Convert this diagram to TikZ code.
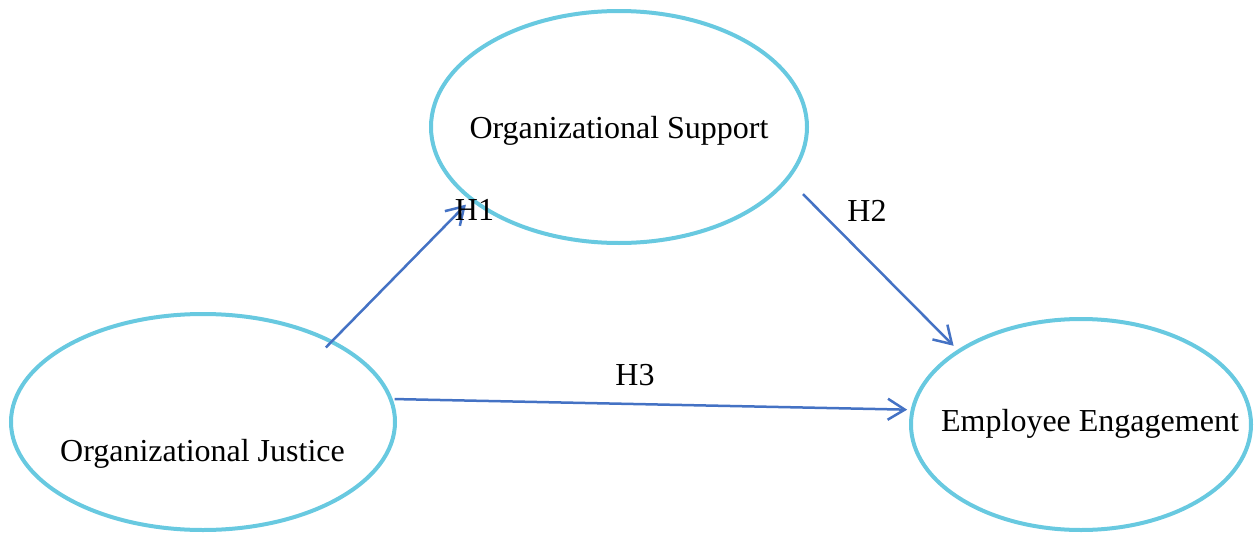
\documentclass[tikz,border=0pt]{standalone}
\usepackage{fontspec}
\setmainfont{Liberation Serif}
\usetikzlibrary{shapes.geometric,arrows.meta}
\definecolor{ringblue}{RGB}{104,201,224}
\definecolor{arrowblue}{RGB}{68,114,196}

\begin{document}
\begin{tikzpicture}[x=1pt,y=-1pt,
	bubble/.style={draw=ringblue,line width=4pt,ellipse,outer sep=0pt,inner sep=0pt},
	hyp/.style={draw=arrowblue,line width=2.5pt,-{Straight Barb[length=17pt,width=21pt]}},
	lbl/.style={font=\fontsize{32}{38}\selectfont,inner sep=0pt,anchor=base}]
	\useasboundingbox (0,0) rectangle (1254,533);

	% les trois construits
	\node[bubble,minimum width=376pt,minimum height=232pt] (support) at (619,127) {};
	\node[bubble,minimum width=384pt,minimum height=216pt] (justice) at (203,422) {};
	\node[bubble,minimum width=340pt,minimum height=211pt] (engage) at (1081,424.5) {};

	\node[lbl] (supportname) at (619,138) {Organizational Support};
	\node[lbl] (justicename) at (202.5,461.7) {Organizational Justice};
	\node[lbl] (engagename) at (1090,431.7) {Employee Engagement};

	% hypotheses
	\draw[hyp,shorten <=-8pt,shorten >=8pt] (justice.32) -- (support.206);
	\draw[hyp,shorten <=22pt,shorten >=7.5pt] (support.-17) -- (engage.149);
	\draw[hyp,shorten <=4pt,shorten >=5.5pt] (justice.7) -- (engage.175);

	\node[lbl] (hone) at (474.5,220.7) {H1};
	\node[lbl] (htwo) at (867,221.7) {H2};
	\node[lbl] (hthree) at (635,385.7) {H3};
\end{tikzpicture}
\end{document}
